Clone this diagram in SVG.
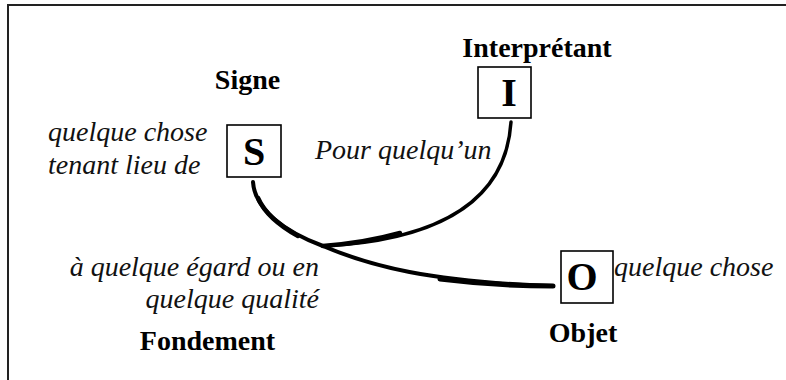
<svg xmlns="http://www.w3.org/2000/svg" width="786" height="380" viewBox="0 0 786 380">
  <style>
    .frame { fill: none; stroke: #222; stroke-width: 2; }
    .box { fill: #fff; stroke: #000; stroke-width: 1.6; }
    .letter { font-family: 'Liberation Serif', 'Times New Roman', Times, serif; font-weight: 700; font-size: 40px; fill: #000; text-anchor: middle; }
    .title { font-family: 'Liberation Serif', 'Times New Roman', Times, serif; font-weight: 700; font-size: 28px; fill: #000; text-anchor: middle; }
    .note { font-family: 'Liberation Serif', 'Times New Roman', Times, serif; font-style: italic; font-size: 28px; fill: #111; }
    .link { fill: none; stroke: #000; stroke-linecap: round; stroke-linejoin: round; }
  </style>

  <!-- outer frame, open to the right and bottom -->
  <path class="frame" d="M790,5 H8 V384"/>

  <!-- connectors: sign to object, interpretant joining at the ground -->
  <g id="connectors">
    <path class="link" stroke-width="4" d="M253,182 C255,210 285,232 323,246 C370,266 430,282 553,286"/>
    <path class="link" stroke-width="4.5" d="M258,198 C265,214 280,226 298,236"/>
    <path class="link" stroke-width="5" d="M440,279 C480,284 515,286 553,286"/>
    <path class="link" stroke-width="3.5" d="M511,122 C506,200 440,240 323,246"/>
    <path class="link" stroke-width="4.5" d="M400,233 C375,240 350,244 323,246"/>
  </g>

  <g id="signe" font-family="Liberation Serif">
    <rect class="box" x="227" y="125" width="54" height="52"/>
    <text class="letter" x="254" y="165" font-family="Liberation Serif">S</text>
    <text class="title" x="247.5" y="89" font-family="Liberation Serif">Signe</text>
    <text class="note" x="48" y="141" font-family="Liberation Serif">quelque chose</text>
    <text class="note" x="48" y="174" font-family="Liberation Serif">tenant lieu de</text>
  </g>

  <g id="interpretant" font-family="Liberation Serif">
    <rect class="box" x="478" y="67" width="53" height="51"/>
    <text class="letter" x="509" y="106" font-family="Liberation Serif">I</text>
    <text class="title" x="537" y="57" font-family="Liberation Serif">Interprétant</text>
    <text class="note" x="315" y="159" font-family="Liberation Serif">Pour quelqu’un</text>
  </g>

  <g id="objet" font-family="Liberation Serif">
    <rect class="box" x="561" y="251" width="52" height="52"/>
    <text class="letter" x="582" y="290" font-family="Liberation Serif">O</text>
    <text class="title" x="583" y="342" font-family="Liberation Serif">Objet</text>
    <text class="note" x="614" y="276" font-family="Liberation Serif">quelque chose</text>
  </g>

  <g id="fondement" font-family="Liberation Serif">
    <text class="note" x="319" y="276" text-anchor="end" font-family="Liberation Serif">à quelque égard ou en</text>
    <text class="note" x="319" y="308" text-anchor="end" font-family="Liberation Serif">quelque qualité</text>
    <text class="title" x="207.5" y="350" font-family="Liberation Serif">Fondement</text>
  </g>
</svg>
